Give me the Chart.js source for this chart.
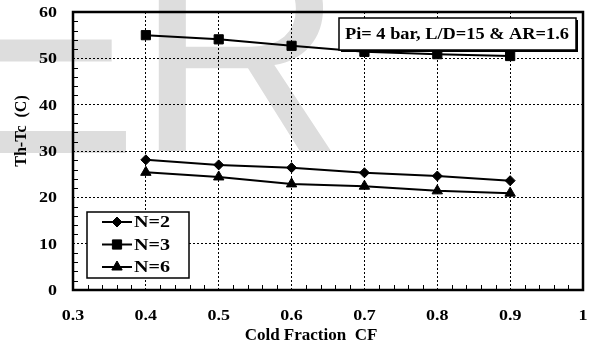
<!DOCTYPE html>
<html>
<head>
<meta charset="utf-8">
<script src="https://cdn.jsdelivr.net/npm/chart.js@4.4.0/dist/chart.umd.min.js"></script>
<style>
  html, body { margin: 0; padding: 0; background: #fff; }
  #wrap { width: 598px; height: 349px; position: relative; }
</style>
</head>
<body>
<div id="wrap"><canvas id="chart"></canvas></div>
<script>
// values
const coldFraction = [0.4, 0.5, 0.6, 0.7, 0.8, 0.9];
const seriesN2 = [28.1, 27.0, 26.4, 25.3, 24.6, 23.6];
const seriesN3 = [55.0, 54.1, 52.7, 51.4, 50.9, 50.5];
const seriesN6 = [25.4, 24.4, 22.9, 22.4, 21.4, 20.9];
const seriesLabels = ['N=2', 'N=3', 'N=6'];
const pointShapes = ['rectRot', 'rect', 'triangle'];
const pointSizes = [5, 6.5, 6];
const annotationText = 'Pi= 4 bar, L/D=15 & AR=1.6';
const xTitle = 'Cold Fraction  CF';
const yTitle = 'Th-Tc  (C)';

const FONT = '"Liberation Serif", "Times New Roman", serif';

function toPoints(ys) {
    return coldFraction.map((x, i) => ({ x: x, y: ys[i] }));
}

const datasets = [seriesN2, seriesN3, seriesN6].map((ys, i) => ({
    label: seriesLabels[i],
    data: toPoints(ys),
    borderColor: '#000',
    backgroundColor: '#000',
    borderWidth: 2,
    pointStyle: pointShapes[i],
    pointRadius: pointSizes[i],
    pointHoverRadius: pointSizes[i],
    pointBorderWidth: 1,
    tension: 0
}));

// text squeezed or stretched sideways to a given width
function fillWide(ctx, text, x, y, width) {
    const w = ctx.measureText(text).width;
    ctx.save();
    ctx.translate(x, y);
    ctx.scale(width / w, 1);
    ctx.fillText(text, 0, 0);
    ctx.restore();
}

// light grey watermark behind the chart
const watermark = {
    id: 'watermark',
    beforeDraw(chart) {
        const ctx = chart.ctx;
        ctx.save();
        ctx.fillStyle = '#dddddd';
        ctx.font = '290px "Liberation Sans", Arial, sans-serif';
        ctx.textBaseline = 'alphabetic';
        ctx.fillText('E', -55, 153);
        ctx.fillText('R', 135, 151);
        ctx.restore();
    }
};

// tick labels, minor ticks, frame, axis titles, annotation box and legend
const decorations = {
    id: 'decorations',
    afterDatasetsDraw(chart) {
        const ctx = chart.ctx;
        const a = chart.chartArea;
        const xs = chart.scales.x;
        const ys = chart.scales.y;
        ctx.save();

        // minor ticks
        ctx.strokeStyle = '#000';
        ctx.lineWidth = 1;
        ctx.beginPath();
        for (let v = 2; v < 60; v += 2) {
            if (v % 10 === 0) continue;
            const py = Math.round(ys.getPixelForValue(v)) + 0.5;
            ctx.moveTo(a.left, py);
            ctx.lineTo(a.left + 5, py);
        }
        for (let k = 16; k < 50; k++) {
            if (k % 5 === 0) continue;
            const px = Math.round(xs.getPixelForValue(k / 50)) + 0.5;
            ctx.moveTo(px, a.bottom);
            ctx.lineTo(px, a.bottom - 5);
        }
        ctx.stroke();

        // frame
        ctx.lineWidth = 2.5;
        ctx.strokeRect(a.left, a.top, a.right - a.left, a.bottom - a.top);

        // tick labels
        ctx.fillStyle = '#000';
        ctx.font = 'bold 15px ' + FONT;
        ctx.textBaseline = 'middle';
        ctx.textAlign = 'left';
        ys.ticks.forEach(t => {
            const s = String(t.value);
            const w = ctx.measureText(s).width * 1.2;
            fillWide(ctx, s, a.left - 16 - w, ys.getPixelForValue(t.value) + 1, w);
        });
        xs.ticks.forEach(t => {
            const s = String(+Number(t.value).toFixed(1));
            const w = ctx.measureText(s).width * 1.2;
            fillWide(ctx, s, xs.getPixelForValue(t.value) - w / 2, 316, w);
        });

        // annotation box
        const bx = 339, by = 18, bw = 237, bh = 32;
        ctx.fillStyle = '#000';
        ctx.fillRect(bx + 2, by + 2, bw, bh);
        ctx.fillStyle = '#fff';
        ctx.fillRect(bx, by, bw, bh);
        ctx.lineWidth = 1.5;
        ctx.strokeRect(bx, by, bw, bh);
        ctx.fillStyle = '#000';
        ctx.font = 'bold 17px ' + FONT;
        fillWide(ctx, annotationText, bx + 6, by + bh / 2 + 1, 224);

        // legend
        const lx = 87, ly = 212, lw = 102, lh = 66;
        ctx.fillStyle = '#fff';
        ctx.fillRect(lx, ly, lw, lh);
        ctx.lineWidth = 1.5;
        ctx.strokeRect(lx, ly, lw, lh);
        ctx.font = 'bold 16px ' + FONT;
        chart.data.datasets.forEach((ds, i) => {
            const cy = ly + 10 + i * 22.5;
            ctx.strokeStyle = '#000';
            ctx.fillStyle = '#000';
            ctx.lineWidth = 2;
            ctx.beginPath();
            ctx.moveTo(lx + 15, cy);
            ctx.lineTo(lx + 45, cy);
            ctx.stroke();
            ctx.lineWidth = 1;
            Chart.helpers.drawPoint(ctx, {
                pointStyle: ds.pointStyle,
                radius: ds.pointRadius,
                rotation: 0,
                borderWidth: 1
            }, lx + 30, cy);
            fillWide(ctx, ds.label, lx + 47, cy + 1, 36);
        });

        // axis titles
        ctx.fillStyle = '#000';
        ctx.font = 'bold 17px ' + FONT;
        ctx.textAlign = 'center';
        ctx.fillText(xTitle, 311, 336);
        ctx.save();
        ctx.translate(22, 131);
        ctx.rotate(-Math.PI / 2);
        ctx.font = 'bold 16px ' + FONT;
        ctx.fillText(yTitle, 0, 0);
        ctx.restore();

        ctx.restore();
    }
};

new Chart(document.getElementById('chart'), {
    type: 'line',
    data: { datasets: datasets },
    options: {
        responsive: true,
        maintainAspectRatio: false,
        animation: false,
        layout: { padding: { top: 12, right: 15, left: 0, bottom: 0 } },
        plugins: {
            legend: { display: false },
            tooltip: { enabled: false }
        },
        scales: {
            x: {
                type: 'linear',
                min: 0.3,
                max: 1,
                afterFit: s => { s.height = 59; },
                grid: { color: '#000', lineWidth: 1, drawTicks: false },
                border: { display: false, dash: [2, 2] },
                ticks: { stepSize: 0.1, display: false }
            },
            y: {
                min: 0,
                max: 60,
                afterFit: s => { s.width = 73; },
                grid: { color: '#000', lineWidth: 1, drawTicks: false },
                border: { display: false, dash: [2, 2] },
                ticks: { stepSize: 10, display: false }
            }
        }
    },
    plugins: [watermark, decorations]
});
</script>
</body>
</html>
